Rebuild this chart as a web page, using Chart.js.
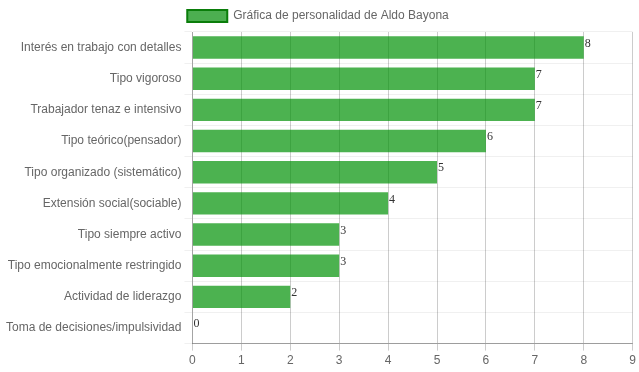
<!DOCTYPE html>
<html><head><meta charset="utf-8">
<script src="https://cdn.jsdelivr.net/npm/chart.js@4.4.0/dist/chart.umd.min.js"></script>
<style>html,body{margin:0;padding:0;background:#fff}#wrap{width:639px;height:372px}</style>
</head><body><div id="wrap"><canvas id="c"></canvas></div>
<script>
const categories = ["Interés en trabajo con detalles","Tipo vigoroso","Trabajador tenaz e intensivo","Tipo teórico(pensador)","Tipo organizado (sistemático)","Extensión social(sociable)","Tipo siempre activo","Tipo emocionalmente restringido","Actividad de liderazgo","Toma de decisiones/impulsividad"];
const values = [8,7,7,6,5,4,3,3,2,0];
const seriesLabel = "Gráfica de personalidad de Aldo Bayona";
const xTicks = [0,1,2,3,4,5,6,7,8,9];

Chart.defaults.font.family = "'Liberation Sans', Arial, sans-serif";
Chart.defaults.font.size = 12;
Chart.defaults.color = '#666';

const valueLabels = {
  id: 'valueLabels',
  afterDatasetsDraw(chart) {
    const ctx = chart.ctx;
    ctx.save();
    ctx.font = "12px 'Liberation Serif', 'Times New Roman', serif";
    ctx.fillStyle = '#333';
    ctx.textBaseline = 'middle';
    ctx.textAlign = 'left';
    chart.getDatasetMeta(0).data.forEach((bar, i) => {
      ctx.fillText(String(values[i]), bar.x + 1, bar.y - 4);
    });
    ctx.restore();
  }
};

new Chart(document.getElementById('c'), {
  type: 'bar',
  data: {
    labels: categories,
    datasets: [{
      label: seriesLabel,
      data: values,
      backgroundColor: 'rgba(0,145,5,0.7)',
      borderWidth: 0
    }]
  },
  options: {
    indexAxis: 'y',
    responsive: true,
    maintainAspectRatio: false,
    animation: false,
    layout: { padding: { right: 6, left: 3, top: 0, bottom: 1 } },
    plugins: {
      tooltip: { enabled: false },
      legend: {
        labels: {
          boxWidth: 40,
          boxHeight: 12,
          color: '#666',
          generateLabels(chart) {
            return [{
              text: seriesLabel,
              fillStyle: '#4caf50',
              strokeStyle: '#0a7d0a',
              fontColor: '#666',
              lineWidth: 2,
              datasetIndex: 0
            }];
          }
        }
      }
    },
    scales: {
      x: {
        min: 0, max: 9,
        ticks: { stepSize: 1, color: '#666', callback: (v) => xTicks.includes(v) ? String(v) : '' },
        grid: { color: 'rgba(0,0,0,0.2)', drawTicks: true, tickLength: 7 },
        border: { color: 'rgba(0,0,0,0.35)' }
      },
      y: {
        ticks: { color: '#666' },
        grid: { color: 'rgba(0,0,0,0.06)', tickLength: 8 },
        border: { color: 'rgba(0,0,0,0.2)' }
      }
    }
  },
  plugins: [valueLabels]
});
</script></body></html>
